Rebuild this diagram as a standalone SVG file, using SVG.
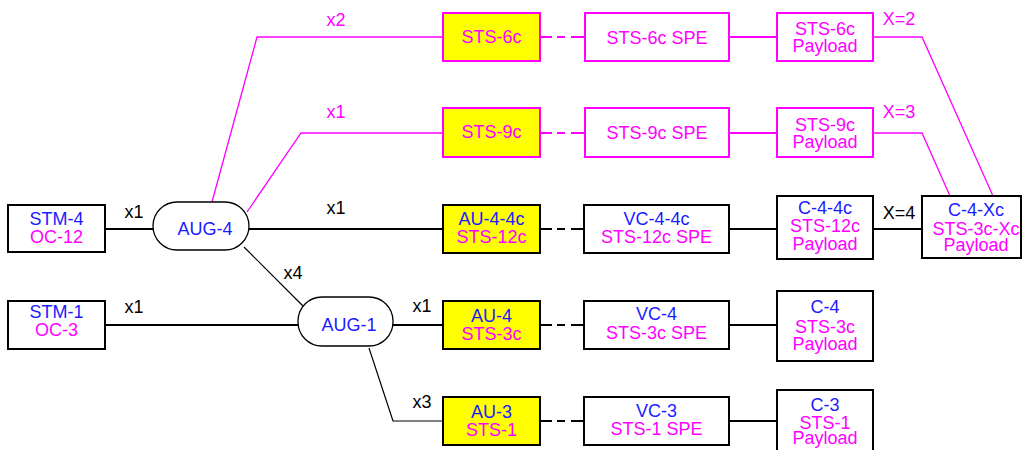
<svg xmlns="http://www.w3.org/2000/svg" width="1024" height="450" viewBox="0 0 1024 450">
<style>
text{font-family:"Liberation Sans",Arial,sans-serif;font-size:18px;text-anchor:middle}
.b{fill:#1c1cff}.m{fill:#ff00ff}.k{fill:#000}
.box{fill:#fff;stroke:#000;stroke-width:2}
.ybox{fill:#ffff00;stroke:#000;stroke-width:2}
.ymbox{fill:#ffff00;stroke:#ff00ff;stroke-width:2}
.mbox{fill:#fff;stroke:#ff00ff;stroke-width:2}
.stad{fill:#fff;stroke:#000;stroke-width:1.3}
.lk{stroke:#000;stroke-width:2;fill:none}
.lkt{stroke:#000;stroke-width:1.2;fill:none}
.lm{stroke:#ff00ff;stroke-width:2;fill:none}
.lmt{stroke:#ff00ff;stroke-width:1.3;fill:none}
.dash{stroke-dasharray:12 5 8 6 30}
</style>
<g id="connectors">
<line class="lk" x1="105" y1="229" x2="153" y2="229"/>
<line class="lk" x1="249" y1="229" x2="443" y2="229"/>
<line class="lkt" x1="244" y1="247" x2="303" y2="306"/>
<line class="lk" x1="105" y1="325" x2="298" y2="325"/>
<line class="lk" x1="393" y1="325" x2="443" y2="325"/>
<polyline class="lkt" points="369,348 393,421 443,421"/>
<polyline class="lmt" points="212,202 257,37 443,37"/>
<polyline class="lmt" points="247,212 301,133 443,133"/>
<line class="lm dash" x1="540" y1="37" x2="585" y2="37"/>
<line class="lm dash" x1="540" y1="133" x2="585" y2="133"/>
<line class="lk dash" x1="540" y1="229" x2="584" y2="229"/>
<line class="lk dash" x1="540" y1="325" x2="584" y2="325"/>
<line class="lk dash" x1="540" y1="421" x2="584" y2="421"/>
<line class="lm" x1="729" y1="37" x2="777" y2="37"/>
<line class="lm" x1="729" y1="133" x2="777" y2="133"/>
<line class="lk" x1="729" y1="229" x2="777" y2="229"/>
<line class="lk" x1="729" y1="325" x2="777" y2="325"/>
<line class="lk" x1="729" y1="421" x2="777" y2="421"/>
<line class="lk" x1="873" y1="229" x2="922" y2="229"/>
<polyline class="lmt" points="873,37 922,37 993,196"/>
<polyline class="lmt" points="873,133 922,133 950,196"/>
<text class="k" x="134" y="218">x1</text>
<text class="k" x="134" y="313">x1</text>
<text class="k" x="336" y="214">x1</text>
<text class="k" x="293" y="279">x4</text>
<text class="k" x="422" y="312">x1</text>
<text class="k" x="422" y="408">x3</text>
<text class="m" x="336" y="26">x2</text>
<text class="m" x="336" y="118">x1</text>
<text class="m" x="899" y="25">X=2</text>
<text class="m" x="899" y="118">X=3</text>
<text class="k" x="899" y="219">X=4</text>
</g>
<g id="stm4"><rect class="box" x="8" y="205" width="97" height="47"/><text class="b" x="56.5" y="225">STM-4</text><text class="m" x="56.5" y="243">OC-12</text></g>
<g id="stm1"><rect class="box" x="8" y="301" width="97" height="48"/><text class="b" x="56.5" y="318">STM-1</text><text class="m" x="56.5" y="336">OC-3</text></g>
<g id="aug4"><rect class="stad" x="153" y="202" width="96" height="48" rx="24" ry="24"/><text class="b" x="205" y="235">AUG-4</text></g>
<g id="aug1"><rect class="stad" x="298" y="297" width="95" height="49" rx="24" ry="24"/><text class="b" x="349" y="331">AUG-1</text></g>
<g id="sts6c"><rect class="ymbox" x="443" y="13" width="97" height="48"/><text class="m" x="491.5" y="43">STS-6c</text></g>
<g id="sts9c"><rect class="ymbox" x="443" y="108" width="97" height="49"/><text class="m" x="491.5" y="138">STS-9c</text></g>
<g id="au44c"><rect class="ybox" x="443" y="205" width="97" height="48"/><text class="b" x="491.5" y="225">AU-4-4c</text><text class="m" x="491.5" y="243">STS-12c</text></g>
<g id="au4"><rect class="ybox" x="443" y="301" width="97" height="48"/><text class="b" x="491.5" y="322">AU-4</text><text class="m" x="491.5" y="340">STS-3c</text></g>
<g id="au3"><rect class="ybox" x="443" y="397" width="97" height="48"/><text class="b" x="491.5" y="418">AU-3</text><text class="m" x="491.5" y="436">STS-1</text></g>
<g id="sts6cspe"><rect class="mbox" x="585" y="13" width="144" height="48"/><text class="m" x="657" y="44">STS-6c SPE</text></g>
<g id="sts9cspe"><rect class="mbox" x="585" y="108" width="144" height="49"/><text class="m" x="657" y="139">STS-9c SPE</text></g>
<g id="vc44c"><rect class="box" x="584" y="205" width="145" height="48"/><text class="b" x="656.5" y="225">VC-4-4c</text><text class="m" x="656.5" y="243">STS-12c SPE</text></g>
<g id="vc4"><rect class="box" x="584" y="301" width="145" height="48"/><text class="b" x="656.5" y="320">VC-4</text><text class="m" x="656.5" y="339">STS-3c SPE</text></g>
<g id="vc3"><rect class="box" x="584" y="397" width="145" height="48"/><text class="b" x="656.5" y="417">VC-3</text><text class="m" x="656.5" y="435">STS-1 SPE</text></g>
<g id="sts6cpl"><rect class="mbox" x="777" y="13" width="96" height="48"/><text class="m" x="825" y="35">STS-6c</text><text class="m" x="825" y="52">Payload</text></g>
<g id="sts9cpl"><rect class="mbox" x="777" y="108" width="96" height="49"/><text class="m" x="825" y="131">STS-9c</text><text class="m" x="825" y="148">Payload</text></g>
<g id="c44c"><rect class="box" x="777" y="196" width="96" height="63"/><text class="b" x="825" y="214">C-4-4c</text><text class="m" x="825" y="232">STS-12c</text><text class="m" x="825" y="250">Payload</text></g>
<g id="c4"><rect class="box" x="777" y="291" width="96" height="70"/><text class="b" x="825" y="313">C-4</text><text class="m" x="825" y="333">STS-3c</text><text class="m" x="825" y="350">Payload</text></g>
<g id="c3"><rect class="box" x="777" y="390" width="96" height="70"/><text class="b" x="825" y="411">C-3</text><text class="m" x="825" y="429">STS-1</text><text class="m" x="825" y="444">Payload</text></g>
<g id="c4xc"><rect class="box" x="922" y="196" width="99" height="62"/><text class="b" x="976" y="216">C-4-Xc</text><text class="m" x="976" y="235">STS-3c-Xc</text><text class="m" x="976" y="251">Payload</text></g>
</svg>
